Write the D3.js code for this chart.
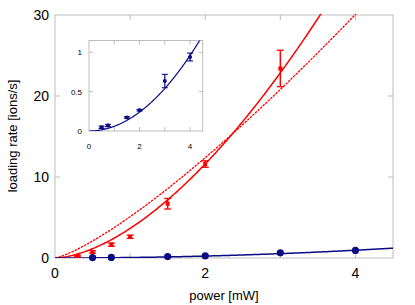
<!DOCTYPE html>
<html>
<head>
<meta charset="utf-8">
<script src="https://cdn.jsdelivr.net/npm/d3@7"></script>
<style>
  body { margin: 0; background: #fff; }
  svg text { font-family: "Liberation Sans", Arial, sans-serif; fill: #000; }
</style>
</head>
<body>
<div id="chart"></div>
<script>
//Datos
const redPower = [0.3, 0.5, 0.75, 1.0, 1.5, 2.0, 3.0];
const redRate = [0.25, 0.75, 1.65, 2.62, 6.7, 11.6, 23.4];
const redErr = [0.1, 0.15, 0.2, 0.2, 0.65, 0.4, 2.25];

const bluePower = [0.5, 0.75, 1.5, 2.0, 3.0, 4.0];
const blueRate = [0.047, 0.07, 0.172, 0.265, 0.635, 0.94];
const blueErr = [0.015, 0.015, 0.01, 0.01, 0.085, 0.05];

//Parámetros de los ajustes (y = a * x^p)
const redFitSolid = [3.65, 1.67];
const redFitDashed = [5.1, 1.28];
const blueFit = [0.06, 2];

const xTicks = [0, 1, 2, 3, 4];
const xTickLabels = [0, 2, 4];
const yTicks = [0, 10, 20, 30];
const insetYTicks = [0, 0.5, 1];

//Colores fijos
const COLOR_RED = '#ff0000',
COLOR_BLUE = '#0b0b82',
COLOR_FRAME = '#bdbdbd';

let W = 415, H = 305;
let svg = d3.select('#chart').append('svg')
    .attr('width', W)
    .attr('height', H);

let x = d3.scaleLinear().domain([0, 4.5]).range([55, 393]);
let y = d3.scaleLinear().domain([0, 30]).range([258, 15]);

let xi = d3.scaleLinear().domain([0, 4.5]).range([89, 202.7]);
let yi = d3.scaleLinear().domain([0, 1.15]).range([131, 40.5]);

let fitX = d3.range(0, 4.5001, 0.02);
function fitLine(xs, ys, p) {
    return d3.line()
        .x(function(d) { return xs(d); })
        .y(function(d) { return ys(p[0] * Math.pow(d, p[1])); })(fitX);
}

//Marco con ticks hacia dentro
function drawFrame(g, xs, ys, xt, yt, tl) {
    let [x0, x1] = xs.range(), [y0, y1] = ys.range();
    g.append('rect')
        .attr('x', x0).attr('y', y1)
        .attr('width', x1 - x0).attr('height', y0 - y1)
        .attr('fill', 'none').attr('stroke', COLOR_FRAME).attr('stroke-width', 1);
    xt.forEach(function(t) {
        if (t == 0) return;
        g.append('line').attr('x1', xs(t)).attr('x2', xs(t)).attr('y1', y0).attr('y2', y0 - tl)
            .attr('stroke', COLOR_FRAME);
        g.append('line').attr('x1', xs(t)).attr('x2', xs(t)).attr('y1', y1).attr('y2', y1 + tl)
            .attr('stroke', COLOR_FRAME);
    });
    yt.forEach(function(t) {
        if (t == 0 || ys(t) <= y1 + 1) return;
        g.append('line').attr('x1', x0).attr('x2', x0 + tl).attr('y1', ys(t)).attr('y2', ys(t))
            .attr('stroke', COLOR_FRAME);
        g.append('line').attr('x1', x1).attr('x2', x1 - tl).attr('y1', ys(t)).attr('y2', ys(t))
            .attr('stroke', COLOR_FRAME);
    });
}

let defs = svg.append('defs');
defs.append('clipPath').attr('id', 'clipMain').append('rect')
    .attr('x', 55).attr('y', 14).attr('width', 338).attr('height', 244);
defs.append('clipPath').attr('id', 'clipInset').append('rect')
    .attr('x', 89).attr('y', 40.5).attr('width', 113.7).attr('height', 90.5);

///// GRÁFICO PRINCIPAL
let main = svg.append('g');
drawFrame(main, x, y, xTicks, yTicks, 5);

main.selectAll('.ytick')
    .data(yTicks)
    .enter()
    .append('text')
    .attr('x', 49)
    .attr('y', function(d) { return y(d) + 5; })
    .attr('text-anchor', 'end')
    .style('font-size', '14px')
    .text(function(d) { return d; });

main.selectAll('.xtick')
    .data(xTickLabels)
    .enter()
    .append('text')
    .attr('x', function(d) { return x(d); })
    .attr('y', 278)
    .attr('text-anchor', 'middle')
    .style('font-size', '14px')
    .text(function(d) { return d; });

main.append('text')
    .attr('x', 224).attr('y', 300)
    .attr('text-anchor', 'middle')
    .style('font-size', '13px')
    .text('power [mW]');

main.append('text')
    .attr('transform', 'translate(17,136) rotate(-90)')
    .attr('text-anchor', 'middle')
    .style('font-size', '13px')
    .text('loading rate [ions/s]');

let curves = main.append('g').attr('clip-path', 'url(#clipMain)');

curves.append('path')
    .attr('d', fitLine(x, y, redFitDashed))
    .attr('fill', 'none')
    .attr('stroke', COLOR_RED)
    .attr('stroke-width', 1.3)
    .attr('stroke-dasharray', '2.5,1');

curves.append('path')
    .attr('d', fitLine(x, y, redFitSolid))
    .attr('fill', 'none')
    .attr('stroke', COLOR_RED)
    .attr('stroke-width', 1.5);

//Barras de error rojas
let red = main.append('g');
redPower.forEach(function(p, i) {
    let cx = x(p), top = y(redRate[i] + redErr[i]), bot = y(redRate[i] - redErr[i]);
    red.append('line').attr('x1', cx).attr('x2', cx).attr('y1', top).attr('y2', bot)
        .attr('stroke', COLOR_RED).attr('stroke-width', 1.5);
    [top, bot].forEach(function(v) {
        red.append('line').attr('x1', cx - 3.5).attr('x2', cx + 3.5).attr('y1', v).attr('y2', v)
            .attr('stroke', COLOR_RED).attr('stroke-width', 1.3);
    });
    red.append('rect')
        .attr('x', cx - 2).attr('y', y(redRate[i]) - 2)
        .attr('width', 4).attr('height', 4)
        .attr('fill', COLOR_RED);
});

curves.append('path')
    .attr('d', fitLine(x, y, blueFit))
    .attr('fill', 'none')
    .attr('stroke', COLOR_BLUE)
    .attr('stroke-width', 1.5);

main.selectAll('.bluedot')
    .data(bluePower)
    .enter()
    .append('circle')
    .attr('cx', function(d) { return x(d); })
    .attr('cy', function(d, i) { return y(blueRate[i]); })
    .attr('r', 3.6)
    .attr('fill', COLOR_BLUE);

///// INSET
let inset = svg.append('g');
inset.append('rect')
    .attr('x', 89).attr('y', 40.5).attr('width', 113.7).attr('height', 90.5)
    .attr('fill', '#fff');
drawFrame(inset, xi, yi, xTicks, insetYTicks, 4);

inset.selectAll('.iytick')
    .data(insetYTicks)
    .enter()
    .append('text')
    .attr('x', 82)
    .attr('y', function(d) { return yi(d) + 3; })
    .attr('text-anchor', 'end')
    .style('font-size', '8px')
    .text(function(d) { return d; });

inset.selectAll('.ixtick')
    .data(xTickLabels)
    .enter()
    .append('text')
    .attr('x', function(d) { return xi(d); })
    .attr('y', 149)
    .attr('text-anchor', 'middle')
    .style('font-size', '8px')
    .text(function(d) { return d; });

inset.append('g').attr('clip-path', 'url(#clipInset)')
    .append('path')
    .attr('d', fitLine(xi, yi, blueFit))
    .attr('fill', 'none')
    .attr('stroke', COLOR_BLUE)
    .attr('stroke-width', 1.2);

bluePower.forEach(function(p, i) {
    let cx = xi(p), top = yi(blueRate[i] + blueErr[i]), bot = yi(blueRate[i] - blueErr[i]);
    inset.append('line').attr('x1', cx).attr('x2', cx).attr('y1', top).attr('y2', bot)
        .attr('stroke', COLOR_BLUE).attr('stroke-width', 1.2);
    [top, bot].forEach(function(v) {
        inset.append('line').attr('x1', cx - 3).attr('x2', cx + 3).attr('y1', v).attr('y2', v)
            .attr('stroke', COLOR_BLUE).attr('stroke-width', 1.1);
    });
    inset.append('circle')
        .attr('cx', cx).attr('cy', yi(blueRate[i]))
        .attr('r', 2)
        .attr('fill', COLOR_BLUE);
});
</script>
</body>
</html>
